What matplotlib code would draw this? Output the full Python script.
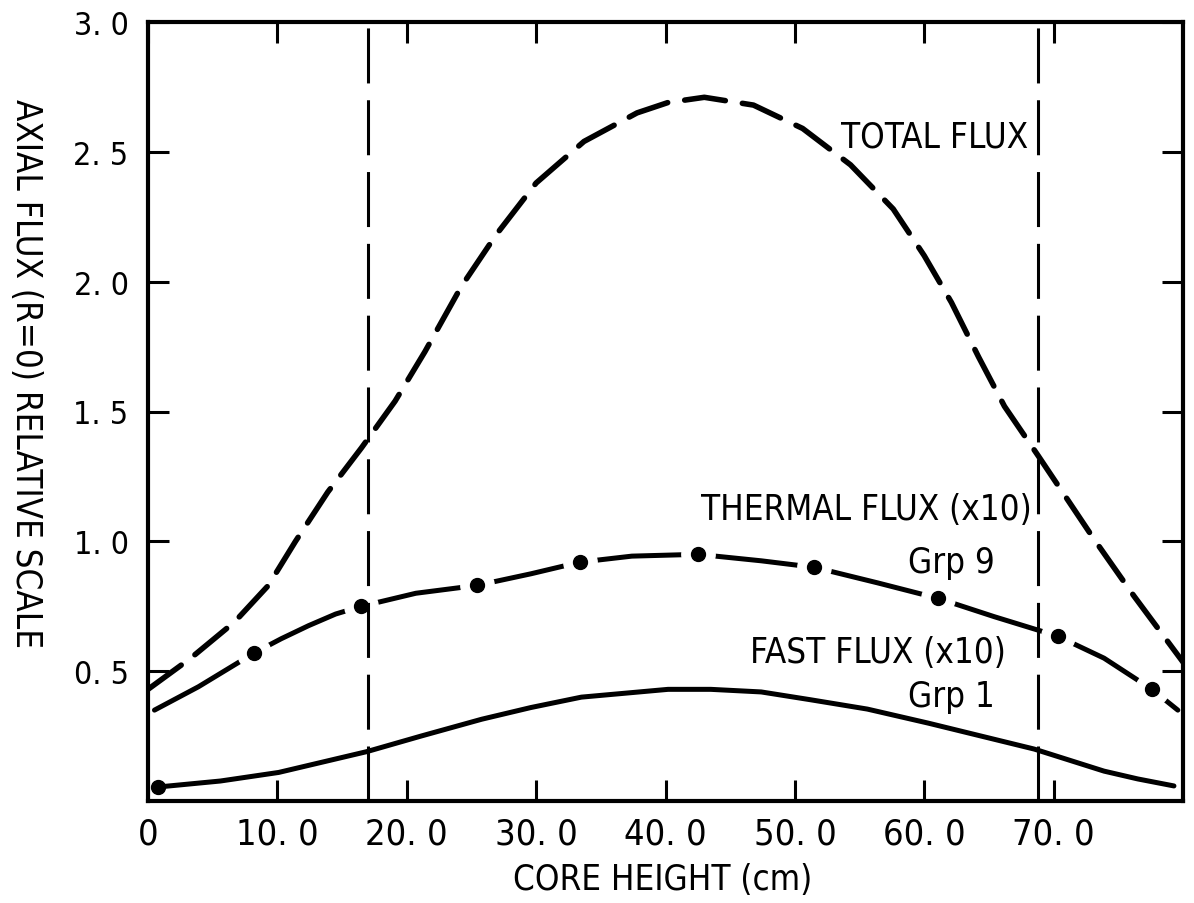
import matplotlib
matplotlib.use("Agg")
import matplotlib.pyplot as plt
from matplotlib import font_manager

# values (core height in cm, relative flux)
total_x = [0.0, 3.3, 6.7, 9.3, 11.4, 13.9, 16.5, 19.1, 21.4, 24.2, 26.9, 30.0,
           33.7, 37.8, 40.2, 43.0, 46.8, 50.6, 54.3, 57.6, 60.0, 62.1, 64.2,
           66.2, 68.8, 73.1, 76.2, 80.0]
total_y = [0.43, 0.55, 0.69, 0.83, 1.00, 1.19, 1.36, 1.54, 1.73, 1.98, 2.18, 2.38,
           2.54, 2.65, 2.69, 2.71, 2.68, 2.59, 2.45, 2.28, 2.10, 1.92, 1.71,
           1.52, 1.33, 1.01, 0.79, 0.535]

thermal_x = [0.5, 3.9, 8.2, 10.3, 12.4, 14.5, 16.5, 20.7, 25.4, 29.6, 33.4, 37.4,
             42.5, 47.4, 51.5, 56.4, 61.1, 65.4, 70.3, 73.9, 77.6, 79.6]
thermal_y = [0.35, 0.44, 0.57, 0.625, 0.675, 0.72, 0.75, 0.80, 0.83, 0.875, 0.92,
             0.943, 0.95, 0.925, 0.90, 0.84, 0.78, 0.71, 0.635, 0.55, 0.43, 0.35]
thermal_dot_x = [8.2, 16.5, 25.4, 33.4, 42.5, 51.5, 61.1, 70.3, 77.6]
thermal_dot_y = [0.57, 0.75, 0.83, 0.92, 0.95, 0.90, 0.78, 0.635, 0.43]

fast_x = [0.8, 5.6, 10.1, 16.9, 21.1, 25.8, 29.6, 33.5, 40.2, 43.5, 47.4,
          51.2, 55.6, 60.3, 64.4, 68.5, 73.9, 76.5, 79.3]
fast_y = [0.054, 0.077, 0.11, 0.19, 0.25, 0.315, 0.36, 0.40, 0.43, 0.43, 0.42,
          0.39, 0.354, 0.30, 0.25, 0.20, 0.115, 0.085, 0.058]
fast_dot_x = [0.8]
fast_dot_y = [0.054]

boundary_x = [17.0, 68.8]  # core boundaries (dashed verticals)

x_ticks = [0, 10, 20, 30, 40, 50, 60, 70]
x_tick_labels = ["0", "10. 0", "20. 0", "30. 0", "40. 0", "50. 0", "60. 0", "70. 0"]
y_ticks = [0.5, 1.0, 1.5, 2.0, 2.5, 3.0]
y_tick_labels = ["0. 5", "1. 0", "1. 5", "2. 0", "2. 5", "3. 0"]

installed = {f.name for f in font_manager.fontManager.ttflist}
if "Liberation Sans Narrow" in installed:
    plt.rcParams['font.family'] = ['Liberation Sans Narrow', 'DejaVu Sans']
else:
    plt.rcParams['font.family'] = ['DejaVu Sans']
    plt.rcParams['font.stretch'] = 'condensed'

W, H = 1194, 904
fig = plt.figure(figsize=(W / 100, H / 100), dpi=100)
ax = fig.add_axes([148 / W, 1 - 802 / H, (1183 - 148) / W, (802 - 23) / H])

ax.set_xlim(0, 80)
ax.set_ylim(0, 3.0)

for bx in boundary_x:
    ax.axvline(bx, color='black', lw=2.2, dashes=(18, 5.5), zorder=4)

ax.plot(total_x, total_y, color='black', lw=4, dashes=(7.4, 3.1),
        dash_capstyle='round', dash_joinstyle='round', zorder=3)
ax.plot(thermal_x, thermal_y, color='black', lw=3.6, solid_capstyle='round',
        solid_joinstyle='round', zorder=2)
# white halo breaks the line around each point, as in the original
ax.plot(thermal_dot_x, thermal_dot_y, 'o', ms=24, color='white', zorder=3)
ax.plot(thermal_dot_x, thermal_dot_y, 'o', ms=10, color='black', zorder=5)
ax.plot(fast_x, fast_y, color='black', lw=3.6, solid_capstyle='round',
        solid_joinstyle='round', zorder=2)
ax.plot(fast_dot_x, fast_dot_y, 'o', ms=10, color='black', zorder=5)

ax.text(68.0, 2.522, "TOTAL FLUX", fontsize=25, ha='right', va='baseline')
ax.text(68.3, 1.086, "THERMAL FLUX (x10)", fontsize=25, ha='right', va='baseline')
ax.text(62.1, 0.882, "Grp 9", fontsize=25, ha='center', va='baseline')
ax.text(66.3, 0.535, "FAST FLUX (x10)", fontsize=25, ha='right', va='baseline')
ax.text(62.1, 0.366, "Grp 1", fontsize=25, ha='center', va='baseline')

ax.set_xticks(x_ticks, x_tick_labels)
ax.set_yticks(y_ticks, y_tick_labels)
ax.tick_params(direction='in', top=True, right=True, width=2.2, length=15)
ax.tick_params(axis='x', labelsize=26, pad=11)
ax.tick_params(axis='y', labelsize=23, pad=14)
for s in ax.spines.values():
    s.set_linewidth(3)

fig.text(663 / W, (H - 890) / H, "CORE HEIGHT (cm)", fontsize=25,
         ha='center', va='baseline')
fig.text(26 / W, 1 - 374 / H, "AXIAL FLUX (R=0) RELATIVE SCALE", fontsize=25,
         rotation=-90, ha='center', va='center')

fig.savefig("out.png", dpi=100)
